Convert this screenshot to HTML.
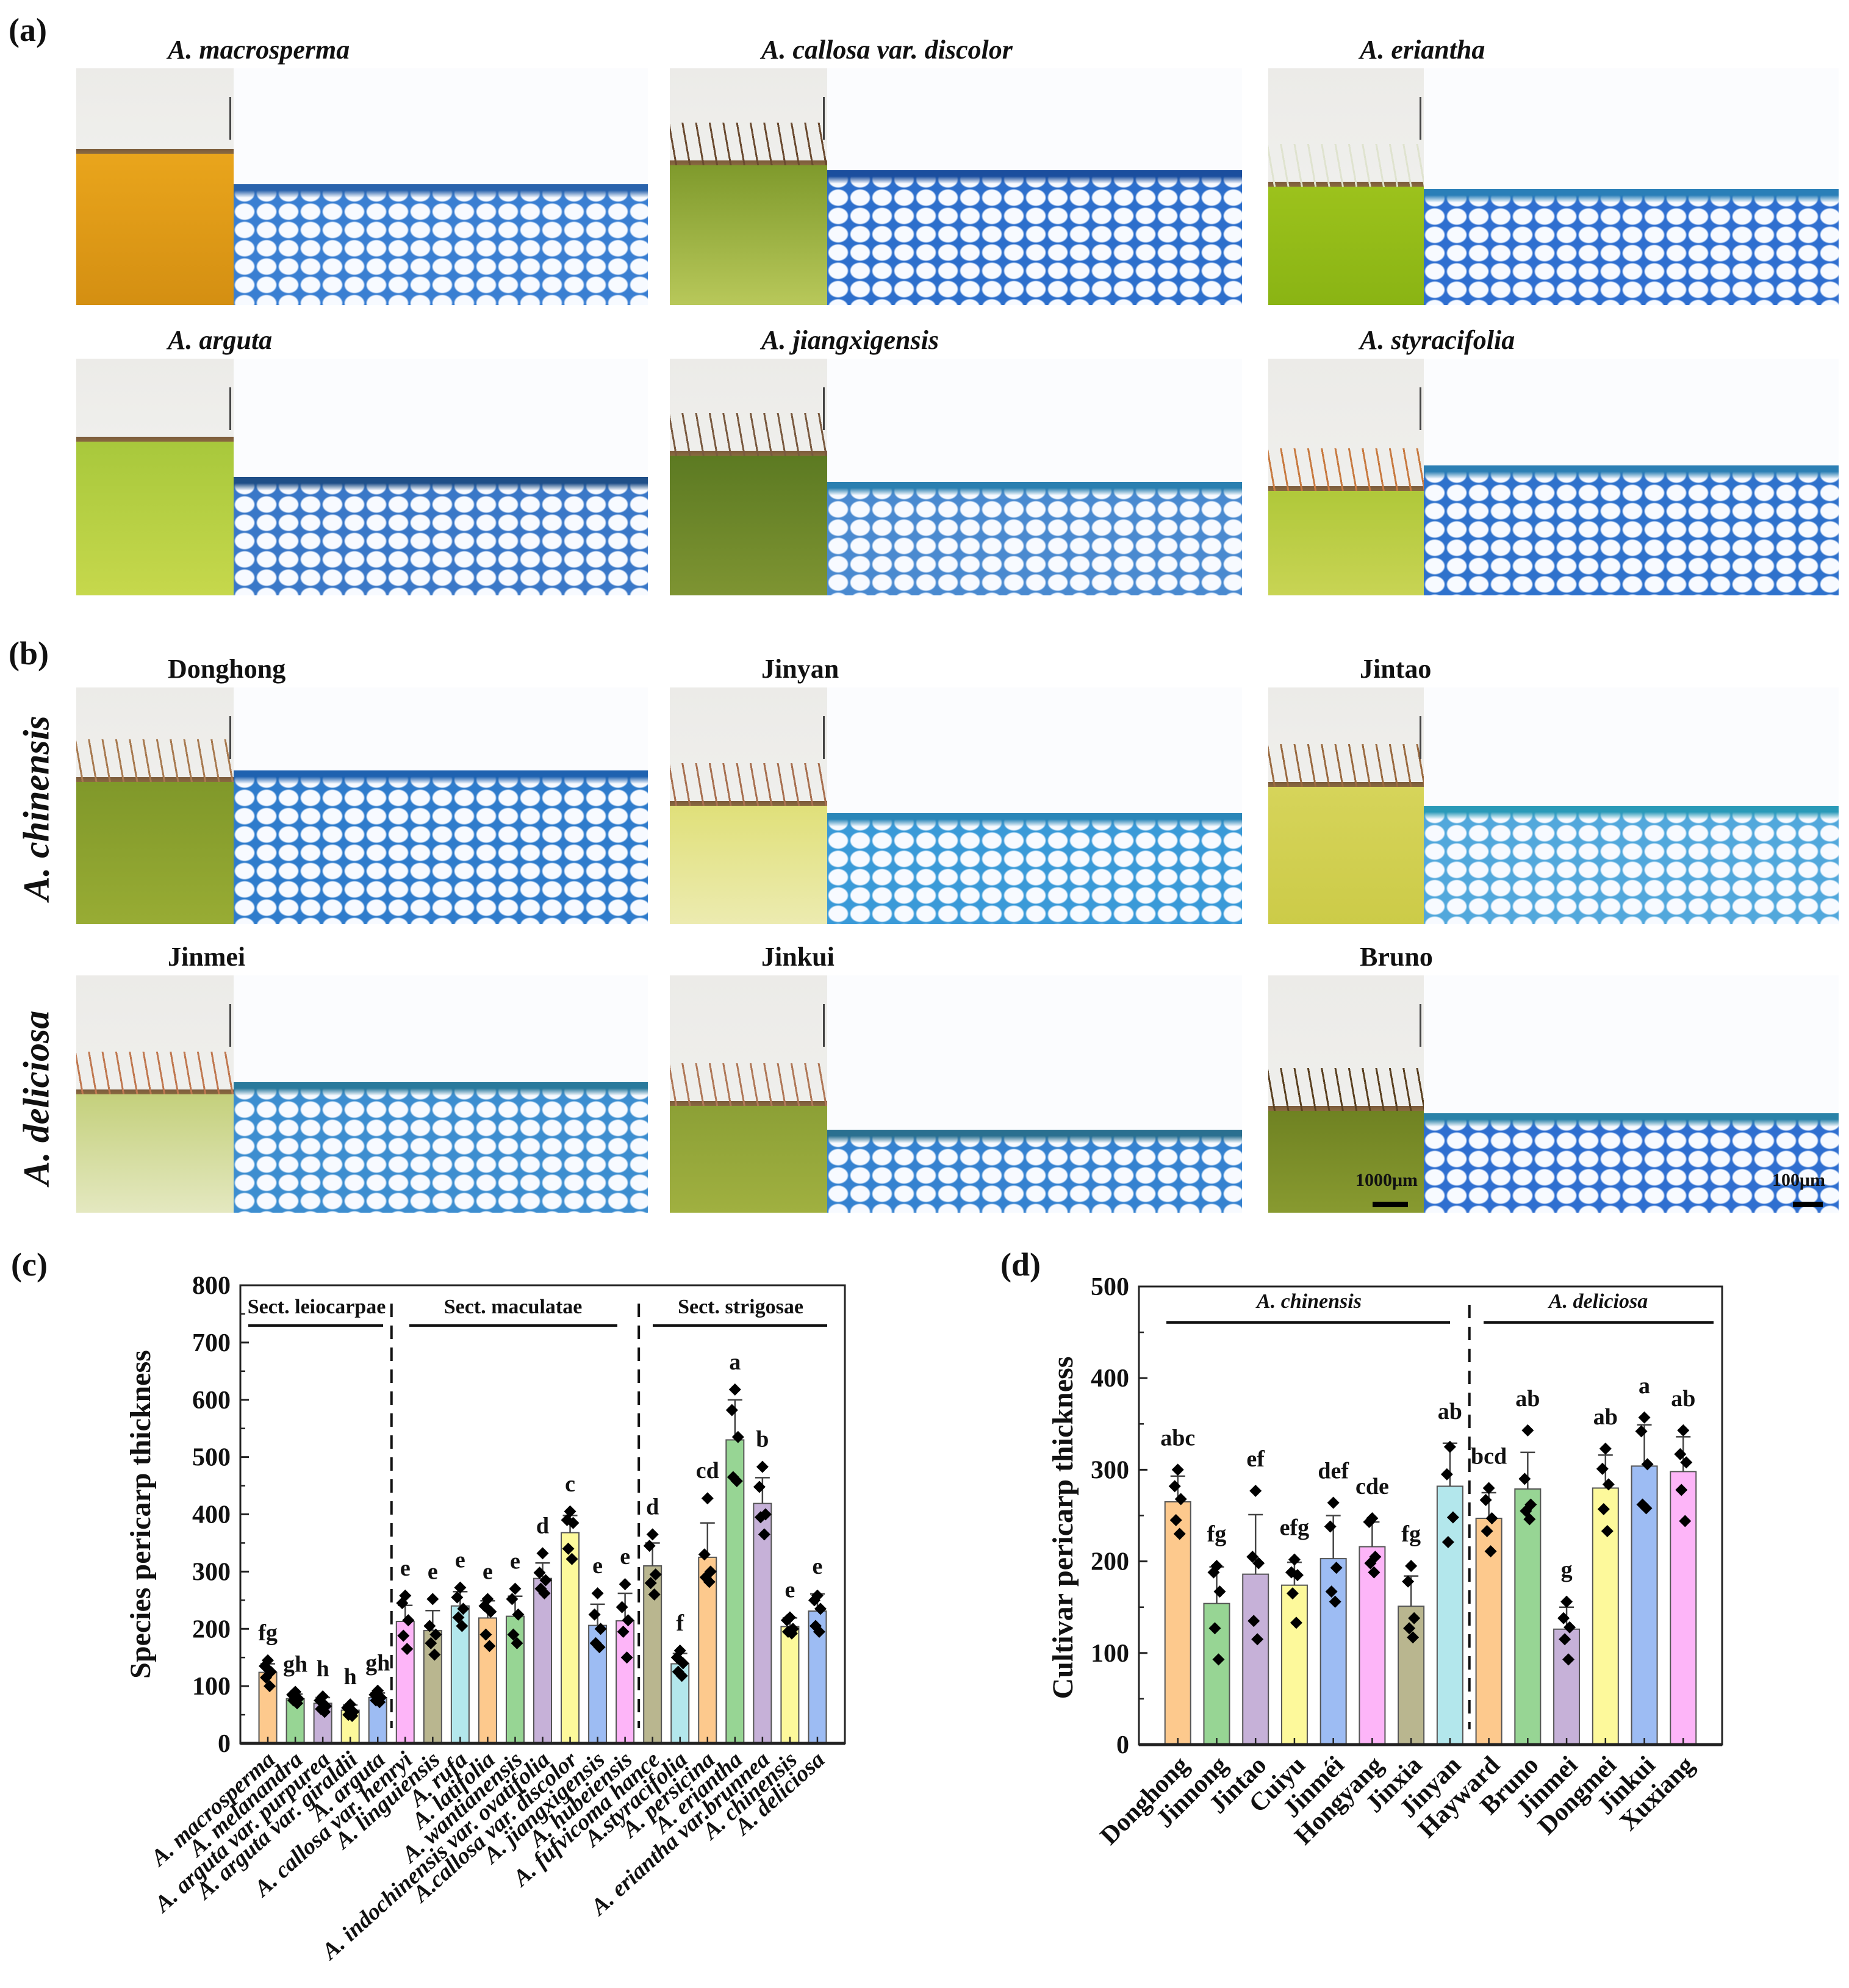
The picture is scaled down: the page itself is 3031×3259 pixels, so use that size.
<!DOCTYPE html>
<html><head><meta charset="utf-8">
<style>
html,body{margin:0;padding:0;background:#fff;}
#root{position:relative;width:3031px;height:3259px;overflow:hidden;background:#fff;font-family:"Liberation Serif",serif;}
.photo,.micro{position:absolute;overflow:hidden;}
.lbl{position:absolute;font-family:"Liberation Serif",serif;font-weight:bold;color:#111;white-space:nowrap;}
svg text{font-family:"Liberation Serif",serif;}
</style></head>
<body>
<div id="root">
  <div class="lbl" style="left:14px;top:18px;font-size:54px;">(a)</div>
  <div class="lbl" style="left:14px;top:1040px;font-size:54px;">(b)</div>
  <div class="lbl" style="left:18px;top:2042px;font-size:54px;">(c)</div>
  <div class="lbl" style="left:1640px;top:2042px;font-size:54px;">(d)</div>
  <div class="lbl" style="left:60px;top:1325px;font-size:60px;font-style:italic;transform:translate(-50%,-50%) rotate(-90deg);">A. chinensis</div>
  <div class="lbl" style="left:60px;top:1800px;font-size:60px;font-style:italic;transform:translate(-50%,-50%) rotate(-90deg);">A. deliciosa</div>
  <div id="panels"></div>
  <svg id="chart" width="3031" height="3259" style="position:absolute;left:0;top:0;"></svg>
</div>
<script>
// ---------- chart (c) data ----------
const cCats=["A. macrosperma","A. melanandra","A. arguta var. purpurea","A. arguta var. giraldii","A. arguta","A. callosa var. henryi","A. linguiensis","A. rufa","A. latifolia","A. wantianensis","A. indochinensis var. ovatifolia","A.callosa var. discolor","A. jiangxigensis","A. hubeiensis","A. fufvicoma hance","A.styracifolia","A. persicina","A. eriantha","A. eriantha var.brunnea","A. chinensis","A. deliciosa"];
const cMeans=[124,78,70,58,80,213,197,240,219,222,288,368,206,214,310,139,325,530,419,204,231];
const cSD=[15,8,10,9,8,28,35,25,30,35,27,30,37,48,40,18,60,70,45,15,30];
const cPts=[[145,135,125,115,100],[90,85,78,75,70],[82,75,65,60,55],[68,62,55,50,48],[92,85,80,75,72],[258,245,215,188,165],[252,205,190,175,155],[272,255,235,220,205],[252,240,230,190,170],[270,252,225,190,175],[332,298,285,270,262],[405,390,385,340,322],[262,225,200,175,168],[278,238,215,195,150],[365,345,295,280,260],[162,150,140,125,118],[428,330,300,290,282],[618,582,535,465,458],[483,448,400,395,365],[220,215,200,195,192],[258,250,235,205,195]];
const cLetters=["fg","gh","h","h","gh","e","e","e","e","e","d","c","e","e","d","f","cd","a","b","e","e"];
const cTicks=[0,100,200,300,400,500,600,700,800];
const cSections=["Sect. leiocarpae","Sect. maculatae","Sect. strigosae"];
// ---------- chart (d) data ----------
const dCats=["Donghong","Jinnong","Jintao","Cuiyu","Jinméi","Hongyang","Jinxia","Jinyan","Hayward","Bruno","Jinmei","Dongmei","Jinkui","Xuxiang"];
const dMeans=[265,154,186,174,203,216,151,282,247,279,126,280,304,298];
const dSD=[28,40,65,25,47,27,33,47,28,40,24,36,45,38];
const dPts=[[300,282,268,245,230],[195,188,167,127,93],[277,205,198,135,115],[202,188,185,165,133],[264,238,193,167,156],[247,243,205,198,188],[195,178,138,127,117],[325,295,248,221],[280,267,247,233,211],[343,290,262,255,246],[156,138,128,115,93],[323,301,284,257,233],[357,342,306,262,258],[343,317,308,278,244]];
const dLetters=["abc","fg","ef","efg","def","cde","fg","ab","bcd","ab","g","ab","a","ab"];
const dTicks=[0,100,200,300,400,500];
const dSections=["A. chinensis","A. deliciosa"];

const palette=["#fdc98d","#97d594","#c6b1d8","#fdf99b","#9dbcf3","#fdb5f8","#b9b68f","#b3e7ec"];
const NS="http://www.w3.org/2000/svg";
const svg=document.getElementById('chart');
function mk(tag,attrs,parent){const e=document.createElementNS(NS,tag);for(const k in attrs)e.setAttribute(k,attrs[k]);(parent||svg).appendChild(e);return e;}

function drawChart(o){
  const g=mk('g',{});
  
  
  const n=o.cats.length;
  const x=i=>o.L+(i+1)*(o.R-o.L)/(n+1);
  const y=v=>o.B-(v/o.max)*(o.B-o.T);
  for(let i=0;i<n;i++){
    const bx=x(i),by=y(o.means[i]);
    const r=mk('rect',{x:bx-o.bw/2,y:by,width:o.bw,height:o.B-by,fill:palette[i%8],stroke:'#555','stroke-width':2},g);
    
    
    const top=y(o.means[i]+o.sd[i]);
    const eb=mk('path',{d:`M${bx},${by}V${top}M${bx-12},${top}H${bx+12}`,stroke:'#444','stroke-width':2.5,fill:'none'},g);
    
    
    const offs=[0,-5,5,-3,3];
    o.pts[i].forEach((v,k)=>{
      const px=bx+offs[k%5],py=y(v);
      const dm=mk('path',{d:`M${px},${py-10}L${px+10},${py}L${px},${py+10}L${px-10},${py}Z`,fill:'#000'},g);
      
      
    });
    const mx=Math.max(o.means[i]+o.sd[i],...o.pts[i]);
    const lt=mk('text',{x:bx,y:y(mx)-o.lgap,'text-anchor':'middle','font-size':o.lfs,'font-weight':'bold',fill:'#111'},g);
    lt.textContent=o.letters[i];
    
    
    mk('line',{x1:bx,y1:o.B,x2:bx,y2:o.B-11,stroke:'#222','stroke-width':2.5},g);
    const xl=mk('text',{transform:`translate(${bx+o.lx},${o.B+o.ly}) rotate(${-o.rot})`,'text-anchor':'end','font-size':o.xfs,'font-weight':'bold','font-style':o.xital?'italic':'normal',fill:'#111'},g);
    xl.textContent=o.cats[i];
    
    
  }
  const step=o.ticks[1]-o.ticks[0];
  o.ticks.forEach((t,k)=>{
    const ty=y(t);
    mk('line',{x1:o.L,y1:ty,x2:o.L+14,y2:ty,stroke:'#222','stroke-width':3},g);
    if(k<o.ticks.length-1){const my=y(t+step/2);mk('line',{x1:o.L,y1:my,x2:o.L+8,y2:my,stroke:'#222','stroke-width':2.5},g);}
    const tl=mk('text',{x:o.L-16,y:ty+14,'text-anchor':'end','font-size':42,'font-weight':'bold',fill:'#111'},g);
    tl.textContent=t;
    
    
  });
  const fr=mk('rect',{x:o.L,y:o.T,width:o.R-o.L,height:o.B-o.T,fill:'none',stroke:'#222','stroke-width':3},g);
  
  
  mk('line',{x1:o.L,y1:o.B,x2:o.R,y2:o.B,stroke:'#222','stroke-width':5},g);
  o.divs.forEach(d=>{
    const dx=(x(d-1)+x(d))/2;
    const dl=mk('line',{x1:dx,y1:o.T+30,x2:dx,y2:o.B-25,stroke:'#111','stroke-width':4,'stroke-dasharray':'22,14'},g);
    
    
  });
  o.sections.forEach((s,k)=>{
    const [a,b,cx]=o.secGeom[k];
    mk('line',{x1:a,y1:o.T+o.sly,x2:b,y2:o.T+o.sly,stroke:'#111','stroke-width':4},g);
    const st=mk('text',{x:cx,y:o.T+o.sty,'text-anchor':'middle','font-size':o.sfs,'font-weight':'bold','font-style':o.sital?'italic':'normal',fill:'#111'},g);
    st.textContent=s;
    
    
  });
  const yt=mk('text',{transform:`translate(${o.ytx},${(o.T+o.B)/2+o.ytdy}) rotate(-90)`,'text-anchor':'middle','font-size':48,'font-weight':'bold',fill:'#111'},g);
  yt.textContent=o.ytitle;
  
  
}

drawChart({name:'chart-species',cats:cCats,means:cMeans,sd:cSD,pts:cPts,letters:cLetters,ticks:cTicks,max:800,
  L:394,R:1385,T:2107,B:2858,bw:29,lgap:33,lfs:38,lx:14,ly:30,rot:42,xfs:38,xital:true,divs:[5,14],
  sections:cSections,secGeom:[[407,628,519],[671,1012,841],[1070,1356,1214]],sly:66,sty:46,sfs:34,sital:false,
  ytx:246,ytdy:0,ytitle:'Species pericarp thickness'});
drawChart({name:'chart-cultivar',cats:dCats,means:dMeans,sd:dSD,pts:dPts,letters:dLetters,ticks:dTicks,max:500,
  L:1867,R:2823,T:2109,B:2860,bw:42,lgap:40,lfs:38,lx:20,ly:36,rot:45,xfs:42,xital:false,divs:[8],
  sections:dSections,secGeom:[[1912,2377,2146],[2432,2809,2620]],sly:59,sty:35,sfs:34,sital:true,
  ytx:1758,ytdy:20,ytitle:'Cultivar pericarp thickness'});

// ---------- image panels (approximations) ----------
const rows=[[112,500],[588,976],[1127,1515],[1599,1988]];
const cols=[[125,383,1062],[1098,1356,2036],[2079,2334,3014]];
const panels=[
 {t:'A. macrosperma',it:true,pb:0.36,pc:'#e9a51c',pc2:'#d48f12',hair:null,mb:0.49,cell:'#3a7fd2',band:'#2a63ac'},
 {t:'A. callosa var. discolor',it:true,pb:0.41,pc:'#7f9a2c',pc2:'#b8c85a',hair:'#6a4a30',mb:0.43,cell:'#2d6fcc',band:'#1b4e9e'},
 {t:'A. eriantha',it:true,pb:0.5,pc:'#9cc21c',pc2:'#8ab414',hair:'#dfe3cf',mb:0.51,cell:'#2f6fd0',band:'#2a7fb8'},
 {t:'A. arguta',it:true,pb:0.35,pc:'#a8c83c',pc2:'#c6d84c',hair:null,mb:0.5,cell:'#3a78c8',band:'#1f4f88'},
 {t:'A. jiangxigensis',it:true,pb:0.41,pc:'#5c7a22',pc2:'#7e9432',hair:'#7a5a40',mb:0.52,cell:'#4a8ad0',band:'#2a7fb0'},
 {t:'A. styracifolia',it:true,pb:0.56,pc:'#b0c83a',pc2:'#c8d454',hair:'#c87a40',mb:0.45,cell:'#2f72cc',band:'#2c7fb4'},
 {t:'Donghong',it:false,pb:0.4,pc:'#80982a',pc2:'#98ac34',hair:'#a87a50',mb:0.35,cell:'#2f7ccc',band:'#1f62b0'},
 {t:'Jinyan',it:false,pb:0.5,pc:'#e0e07a',pc2:'#ecebb0',hair:'#a87050',mb:0.53,cell:'#3a9ad8',band:'#2a86b8'},
 {t:'Jintao',it:false,pb:0.42,pc:'#d6d45a',pc2:'#cccb48',hair:'#9a6a40',mb:0.5,cell:'#52a8dc',band:'#2a9ab8'},
 {t:'Jinmei',it:false,pb:0.5,pc:'#c4d07c',pc2:'#e4e8c0',hair:'#c07850',mb:0.45,cell:'#3d8ed0',band:'#2a7a9c'},
 {t:'Jinkui',it:false,pb:0.55,pc:'#8ca036',pc2:'#a0b040',hair:'#b07858',mb:0.65,cell:'#3582d0',band:'#2a7090'},
 {t:'Bruno',it:false,pb:0.57,pc:'#6f8222',pc2:'#889a30',hair:'#5a4020',mb:0.58,cell:'#2f6fd0',band:'#2a82a8'}
];
const host=document.getElementById('panels');
panels.forEach((p,i)=>{
  const r=rows[Math.floor(i/3)],c=cols[i%3];
  const h=r[1]-r[0];
  const t=document.createElement('div');
  t.className='lbl';
  t.style.cssText=`left:${c[0]+150}px;top:${r[0]-56}px;font-size:44px;font-style:${p.it?'italic':'normal'};`;
  t.textContent=p.t;
  
  
  host.appendChild(t);
  const ph=document.createElement('div');
  ph.className='photo';
  const bnd=Math.round(p.pb*h);
  let hairBg='';
  if(p.hair){hairBg=`repeating-linear-gradient(80deg, transparent 0 9px, ${p.hair} 9px 12px, transparent 12px 22px) 0 ${bnd-70}px/100% 70px no-repeat,`;}
  ph.style.cssText=`left:${c[0]}px;top:${r[0]}px;width:${c[1]-c[0]}px;height:${h}px;background:${hairBg}linear-gradient(180deg,#ecebe8 0,#efefec ${bnd-8}px,#7a5a3a ${bnd-8}px,#8a6a40 ${bnd}px,${p.pc} ${bnd}px,${p.pc2} 100%);`;
  
  
  host.appendChild(ph);
  const sb=document.createElement('div');
  sb.style.cssText=`position:absolute;right:4px;top:${Math.round(h*0.12)}px;width:3px;height:${Math.round(h*0.18)}px;background:#444;`;
  ph.appendChild(sb);
  const mi=document.createElement('div');
  mi.className='micro';
  const mb=Math.round(p.mb*h);
  mi.style.cssText=`left:${c[1]}px;top:${r[0]}px;width:${c[2]-c[1]}px;height:${h}px;background:#fbfcfe;`;
  
  
  const cells=document.createElement('div');
  cells.style.cssText=`position:absolute;left:0;right:0;top:${mb}px;bottom:0;background:linear-gradient(180deg,${p.band} 0,${p.band} 10px,transparent 22px),radial-gradient(ellipse at 50% 50%,#f7faff 0 58%,${p.cell} 68%,${p.cell} 100%) 0 0/36px 30px;`;
  mi.appendChild(cells);
  host.appendChild(mi);
});
[[2222,1918,'1000μm',2250,2308],[2905,1918,'100μm',2939,2988]].forEach(s=>{
  const t=document.createElement('div');
  t.className='lbl';
  t.style.cssText=`left:${s[0]}px;top:${s[1]}px;font-size:30px;`;
  t.textContent=s[2];
  
  
  host.appendChild(t);
  const b=document.createElement('div');
  b.style.cssText=`position:absolute;left:${s[3]}px;top:1970px;width:${s[4]-s[3]}px;height:9px;background:#000;`;
  
  
  host.appendChild(b);
});
</script>
</body></html>
